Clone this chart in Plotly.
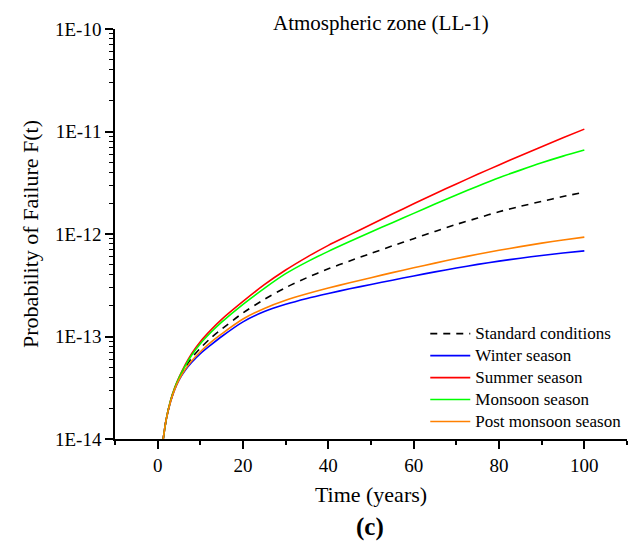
import plotly.graph_objects as go

# ---- data ----
years = [1.3, 2, 3, 4, 5, 6.5, 8, 10, 12.5, 15, 20, 25, 30, 35, 40, 45, 50, 55, 60, 65,
         70, 75, 80, 85, 90, 95, 100]

standard = [1.0e-14, 1.55e-14, 2.32e-14, 3.1e-14, 3.85e-14, 5.0e-14, 6.2e-14, 7.7e-14, 9.7e-14,
            1.18e-13, 1.7e-13, 2.3e-13, 3.0e-13, 3.75e-13, 4.57e-13, 5.46e-13, 6.47e-13,
            7.65e-13, 9.0e-13, 1.06e-12, 1.24e-12, 1.43e-12, 1.65e-12, 1.86e-12, 2.08e-12,
            2.32e-12, 2.56e-12]
winter = [1.0e-14, 1.55e-14, 2.3e-14, 3.05e-14, 3.75e-14, 4.7e-14, 5.6e-14, 6.8e-14, 8.3e-14,
          1.0e-13, 1.39e-13, 1.75e-13, 2.06e-13, 2.35e-13, 2.63e-13, 2.92e-13, 3.22e-13,
          3.54e-13, 3.9e-13, 4.27e-13, 4.66e-13, 5.05e-13, 5.44e-13, 5.81e-13, 6.18e-13,
          6.52e-13, 6.84e-13]
summer = [1.0e-14, 1.55e-14, 2.36e-14, 3.17e-14, 4.0e-14, 5.35e-14, 6.85e-14, 8.9e-14, 1.16e-13,
          1.47e-13, 2.2e-13, 3.2e-13, 4.45e-13, 5.95e-13, 7.75e-13, 9.8e-13, 1.24e-12,
          1.565e-12, 1.97e-12, 2.47e-12, 3.08e-12, 3.82e-12, 4.72e-12, 5.8e-12, 7.1e-12,
          8.67e-12, 1.055e-11]
monsoon = [1.0e-14, 1.55e-14, 2.35e-14, 3.15e-14, 3.95e-14, 5.2e-14, 6.6e-14, 8.5e-14, 1.1e-13,
           1.38e-13, 2.06e-13, 2.95e-13, 4.1e-13, 5.35e-13, 6.77e-13, 8.44e-13, 1.046e-12,
           1.29e-12, 1.59e-12, 1.96e-12, 2.4e-12, 2.93e-12, 3.54e-12, 4.2e-12, 4.95e-12,
           5.75e-12, 6.6e-12]
post_monsoon = [1.0e-14, 1.55e-14, 2.3e-14, 3.05e-14, 3.78e-14, 4.8e-14, 5.8e-14, 7.1e-14, 8.8e-14,
                1.06e-13, 1.48e-13, 1.88e-13, 2.26e-13, 2.61e-13, 2.97e-13, 3.345e-13, 3.75e-13,
                4.2e-13, 4.68e-13, 5.2e-13, 5.76e-13, 6.34e-13, 6.93e-13, 7.53e-13, 8.14e-13,
                8.74e-13, 9.33e-13]

series_names = ["Standard conditions", "Winter season", "Summer season",
                "Monsoon season", "Post monsoon season"]
series_values = [standard, winter, summer, monsoon, post_monsoon]
series_colors = ["#000000", "#0000FF", "#FF0000", "#00FF00", "#FF8000"]
series_dash = ["7px,6px", "solid", "solid", "solid", "solid"]

y_tickvals = [1e-14, 1e-13, 1e-12, 1e-11, 1e-10]
y_ticktext = ["1E-14", "1E-13", "1E-12", "1E-11", "1E-10"]
x_tickvals = [0, 20, 40, 60, 80, 100]

FONT = "Liberation Serif"

fig = go.Figure()
for name, vals, col, dash in zip(series_names, series_values, series_colors, series_dash):
    fig.add_trace(go.Scatter(
        x=years, y=vals, mode="lines",
        name="<span style=\"font-family:'Liberation Serif', serif;font-size:17px\">" + name + "</span>",
        line=dict(color=col, width=1.6, dash=dash, shape="spline", smoothing=0.8),
    ))

fig.update_layout(
    width=632, height=545,
    margin=dict(l=115, r=5, t=29, b=106),
    paper_bgcolor="white", plot_bgcolor="white",
    font=dict(family=FONT, color="#000000", size=16),
    showlegend=True,
    legend=dict(
        x=0.606, y=0.296, xanchor="left", yanchor="top",
        bgcolor="rgba(0,0,0,0)", borderwidth=0,
        font=dict(family=FONT, size=14.6, color="#000000"),
        itemwidth=40, tracegroupgap=0,
    ),
    annotations=[
        dict(text="Atmospheric zone (LL-1)", xref="paper", yref="paper",
             x=(381 - 115) / 512, y=1 + (29 - 23) / 410, xanchor="center", yanchor="middle",
             showarrow=False, font=dict(family=FONT, size=21, color="#000000")),
        dict(text="<b>(c)</b>", xref="paper", yref="paper",
             x=(370 - 115) / 512, y=-(527 - 439) / 410, xanchor="center", yanchor="middle",
             showarrow=False, font=dict(family=FONT, size=25, color="#000000")),
    ],
)

fig.update_xaxes(
    range=[-10, 110], tickmode="array", tickvals=x_tickvals,
    showline=True, linecolor="black", linewidth=1.6, mirror=False,
    ticks="outside", ticklen=8, tickwidth=1.6, tickcolor="black",
    minor=dict(tickmode="linear", tick0=-10, dtick=20, ticks="outside", ticklen=4,
               tickwidth=1.6, tickcolor="black"),
    showgrid=False, zeroline=False,
    tickfont=dict(family=FONT, size=19),
    title=dict(text="Time (years)", font=dict(family=FONT, size=22), standoff=12),
)

fig.update_yaxes(
    type="log", range=[-14, -10], tickmode="array",
    tickvals=y_tickvals, ticktext=y_ticktext,
    showline=True, linecolor="black", linewidth=1.6, mirror=False,
    ticks="outside", ticklen=8, tickwidth=1.6, tickcolor="black",
    minor=dict(dtick="D1", ticks="outside", ticklen=4, tickwidth=1.2, tickcolor="black"),
    showgrid=False, zeroline=False,
    tickfont=dict(family=FONT, size=19),
    title=dict(text="Probability of Failure F(t)", font=dict(family=FONT, size=22), standoff=10),
)

fig.write_html("out.html")
